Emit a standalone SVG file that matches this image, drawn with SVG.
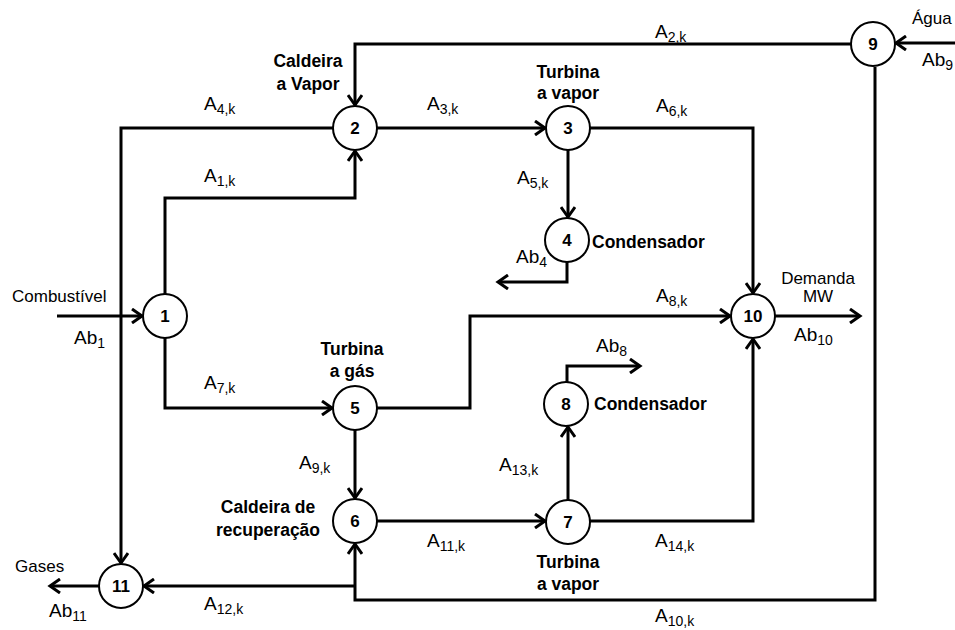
<svg xmlns="http://www.w3.org/2000/svg" width="955" height="630" viewBox="0 0 955 630">
<style>
.c{fill:#fff;stroke:#000;stroke-width:2}
.n{font-family:"Liberation Sans",Arial,sans-serif;font-weight:bold;font-size:17px;text-anchor:middle}
.l{font-family:"Liberation Sans",Arial,sans-serif;font-size:19px}
.s{font-size:14px}
.t{font-family:"Liberation Sans",Arial,sans-serif;font-size:17px}
.b{font-family:"Liberation Sans",Arial,sans-serif;font-weight:bold;font-size:17.5px}
.w{fill:none;stroke:#000;stroke-width:3}
</style>
<defs>
<marker id="ar" markerUnits="userSpaceOnUse" markerWidth="16" markerHeight="16" refX="13" refY="8" orient="auto">
<path d="M3,1 L13,8 L3,15" fill="none" stroke="#000" stroke-width="3"/>
</marker>
</defs>
<rect width="955" height="630" fill="#fff"/>
<g id="connectors">
<path class="w" d="M955,43 H896" marker-end="url(#ar)"/>
<path class="w" d="M851,44 H355 V105" marker-end="url(#ar)"/>
<path class="w" d="M875,67 V600 H355 V544" marker-end="url(#ar)"/>
<path class="w" d="M333,128 H121 V563" marker-end="url(#ar)"/>
<path class="w" d="M57,316 H142" marker-end="url(#ar)"/>
<path class="w" d="M165,294 V198 H355 V151" marker-end="url(#ar)"/>
<path class="w" d="M165,338 V408 H332" marker-end="url(#ar)"/>
<path class="w" d="M377,128 H545" marker-end="url(#ar)"/>
<path class="w" d="M590,128 H753 V293" marker-end="url(#ar)"/>
<path class="w" d="M568,150 V217" marker-end="url(#ar)"/>
<path class="w" d="M567,262 V282 H498" marker-end="url(#ar)"/>
<path class="w" d="M377,408 H470 V316 H730" marker-end="url(#ar)"/>
<path class="w" d="M775,316 H860" marker-end="url(#ar)"/>
<path class="w" d="M355,430 V498" marker-end="url(#ar)"/>
<path class="w" d="M377,521 H545" marker-end="url(#ar)"/>
<path class="w" d="M568,500 V427" marker-end="url(#ar)"/>
<path class="w" d="M567,382 V366 H640" marker-end="url(#ar)"/>
<path class="w" d="M590,521 H753 V339" marker-end="url(#ar)"/>
<path class="w" d="M355,586 H144" marker-end="url(#ar)"/>
<path class="w" d="M99,586 H50" marker-end="url(#ar)"/>
</g>
<g id="n1"><circle class="c" cx="165" cy="316" r="22"/><text class="n" x="165" y="322">1</text></g>
<g id="n2"><circle class="c" cx="355" cy="128" r="22"/><text class="n" x="355" y="134">2</text></g>
<g id="n3"><circle class="c" cx="568" cy="128" r="22"/><text class="n" x="568" y="134">3</text></g>
<g id="n4"><circle class="c" cx="567" cy="240" r="22"/><text class="n" x="567" y="246">4</text></g>
<g id="n5"><circle class="c" cx="355" cy="408" r="22"/><text class="n" x="355" y="414">5</text></g>
<g id="n6"><circle class="c" cx="355" cy="521" r="22"/><text class="n" x="355" y="527">6</text></g>
<g id="n7"><circle class="c" cx="568" cy="522" r="22"/><text class="n" x="568" y="528">7</text></g>
<g id="n8"><circle class="c" cx="566" cy="404" r="22"/><text class="n" x="566" y="410">8</text></g>
<g id="n9"><circle class="c" cx="873" cy="44" r="22"/><text class="n" x="873" y="50">9</text></g>
<g id="n10"><circle class="c" cx="753" cy="316" r="22"/><text class="n" x="753" y="322">10</text></g>
<g id="n11"><circle class="c" cx="121" cy="586" r="22"/><text class="n" x="121" y="592">11</text></g>
<g id="labels">
<text class="l" x="655" y="38">A<tspan class="s" dy="4">2,k</tspan></text>
<text class="l" x="204" y="110">A<tspan class="s" dy="4">4,k</tspan></text>
<text class="l" x="204" y="182">A<tspan class="s" dy="4">1,k</tspan></text>
<text class="l" x="427" y="110">A<tspan class="s" dy="4">3,k</tspan></text>
<text class="l" x="656" y="112">A<tspan class="s" dy="4">6,k</tspan></text>
<text class="l" x="517" y="184">A<tspan class="s" dy="4">5,k</tspan></text>
<text class="l" x="656" y="302">A<tspan class="s" dy="4">8,k</tspan></text>
<text class="l" x="204" y="389">A<tspan class="s" dy="4">7,k</tspan></text>
<text class="l" x="299" y="469">A<tspan class="s" dy="4">9,k</tspan></text>
<text class="l" x="499" y="471">A<tspan class="s" dy="4">13,k</tspan></text>
<text class="l" x="427" y="547">A<tspan class="s" dy="4">11,k</tspan></text>
<text class="l" x="655" y="547">A<tspan class="s" dy="4">14,k</tspan></text>
<text class="l" x="204" y="610">A<tspan class="s" dy="4">12,k</tspan></text>
<text class="l" x="655" y="622">A<tspan class="s" dy="4">10,k</tspan></text>
<text class="l" x="74" y="344">Ab<tspan class="s" dy="4">1</tspan></text>
<text class="l" x="516" y="263">Ab<tspan class="s" dy="4">4</tspan></text>
<text class="l" x="596" y="352">Ab<tspan class="s" dy="4">8</tspan></text>
<text class="l" x="794" y="341">Ab<tspan class="s" dy="4">10</tspan></text>
<text class="l" x="49" y="617">Ab<tspan class="s" dy="4">11</tspan></text>
<text class="l" x="922" y="66">Ab<tspan class="s" dy="4">9</tspan></text>
<text class="t" x="12" y="302">Combustível</text>
<text class="t" x="15" y="572">Gases</text>
<text class="t" x="912" y="24">Água</text>
<text class="t" x="818" y="284" text-anchor="middle">Demanda</text>
<text class="t" x="818" y="302" text-anchor="middle">MW</text>
<text class="b" x="308" y="67" text-anchor="middle">Caldeira</text>
<text class="b" x="308" y="90" text-anchor="middle">a Vapor</text>
<text class="b" x="568" y="78" text-anchor="middle">Turbina</text>
<text class="b" x="568" y="99" text-anchor="middle">a vapor</text>
<text class="b" x="592" y="248">Condensador</text>
<text class="b" x="352" y="355" text-anchor="middle">Turbina</text>
<text class="b" x="352" y="377" text-anchor="middle">a gás</text>
<text class="b" x="594" y="410">Condensador</text>
<text class="b" x="268" y="513" text-anchor="middle">Caldeira de</text>
<text class="b" x="268" y="536" text-anchor="middle">recuperação</text>
<text class="b" x="568" y="568" text-anchor="middle">Turbina</text>
<text class="b" x="568" y="590" text-anchor="middle">a vapor</text>
</g>
</svg>
